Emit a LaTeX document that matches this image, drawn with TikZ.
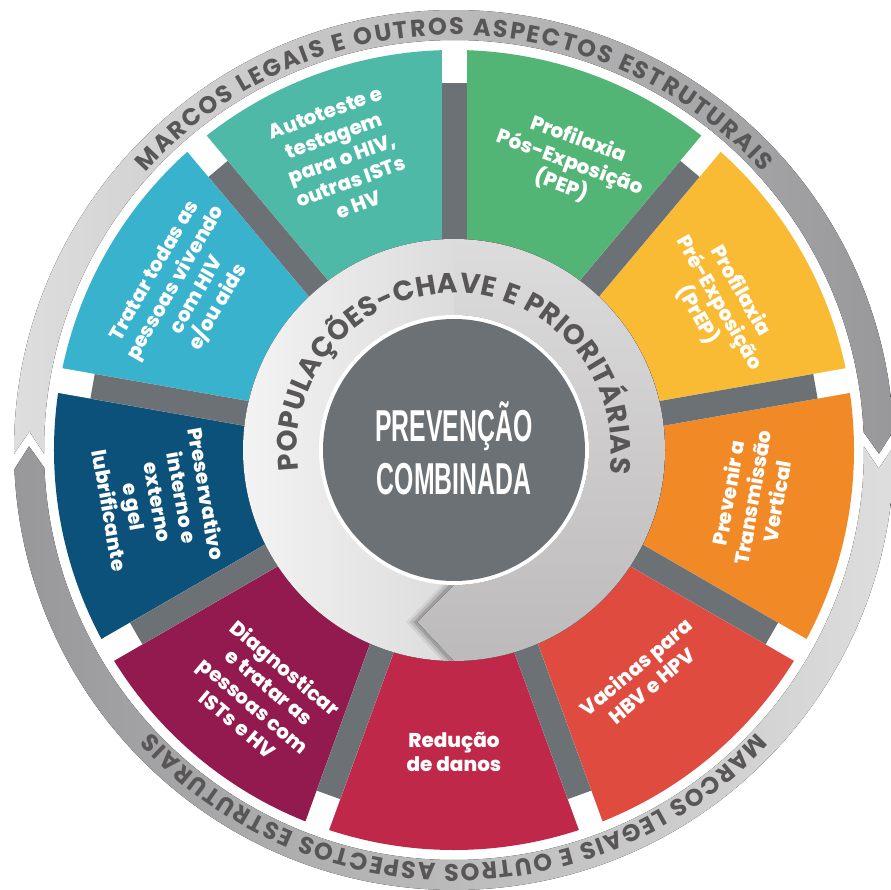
\documentclass[tikz,border=0pt]{standalone}
\usepackage{fontspec}
\setmainfont{Poppins}[BoldFont={Poppins ExtraBold}]
\newfontfamily\ringfont{Poppins}
\newfontfamily\hubfont{Liberation Sans}
\usepackage{xcolor}
\definecolor{segteal}{RGB}{79, 185, 168}
\definecolor{seggreen}{RGB}{82, 181, 118}
\definecolor{segyellow}{RGB}{250, 187, 52}
\definecolor{segorange}{RGB}{240, 137, 38}
\definecolor{segred}{RGB}{223, 76, 63}
\definecolor{segcrimson}{RGB}{192, 40, 74}
\definecolor{segpurple}{RGB}{146, 26, 79}
\definecolor{segnavy}{RGB}{12, 81, 122}
\definecolor{segblue}{RGB}{56, 178, 205}
\definecolor{hubgray}{RGB}{107, 113, 116}
\definecolor{ringtext}{RGB}{88, 86, 86}
\definecolor{ringlight}{RGB}{222, 222, 222}
\definecolor{ringdark}{RGB}{152, 152, 154}
\definecolor{innerlight}{RGB}{243, 243, 243}
\definecolor{innerdark}{RGB}{199, 197, 197}
\definecolor{bandlight}{RGB}{221, 220, 220}
\definecolor{banddark}{RGB}{188, 186, 186}
\usepackage{tikz}
\usetikzlibrary{
    decorations.text
}
\tikzstyle{seglabel} = [
    text=white,
    align=center,
    inner sep=0pt,
    font=\bfseries\fontsize{20}{24.5}\selectfont
]
\tikzstyle{hublabel} = [
    text=white,
    anchor=base,
    inner sep=0pt,
    xscale=0.555,
    font=\hubfont\bfseries\fontsize{44.7}{53}\selectfont
]
\tikzstyle{gapwhite} = [
    white,
    line width=25pt
]
\tikzstyle{gapbar} = [
    hubgray,
    line width=25pt
]
\tikzstyle{ringlabel} = [
    decorate,
    decoration={text along path, text align={fit to path}, text color=ringtext}
]
\tikzstyle{shadowline} = [
    black,
    line join=miter
]

\begin{document}
\begin{tikzpicture}
    \useasboundingbox (-454pt,-440pt) rectangle (436pt,450pt);

    % Outer Ring (two arrows)
    \fill[left color=ringlight, right color=ringdark] (180.5:440pt) arc[start angle=180.5, end angle=2.5, radius=440pt] -- (-0.5:425pt) -- (2.5:410pt) arc[start angle=2.5, end angle=180.5, radius=410pt] -- (177.5:425pt) -- cycle;
    \fill[left color=ringdark, right color=ringlight] (0.5:440pt) arc[start angle=0.5, end angle=-177.5, radius=440pt] -- (-180.5:425pt) -- (-177.5:410pt) arc[start angle=-177.5, end angle=0.5, radius=410pt] -- (-2.5:425pt) -- cycle;

    % Outer Ring Texts
    \path[ringlabel, decoration={text={|\ringfont\bfseries\fontsize{24}{24}\selectfont|MARCOS LEGAIS E OUTROS ASPECTOS ESTRUTURAIS}}] (138:415pt) arc[start angle=138, end angle=42, radius=415pt];
    \path[ringlabel, decoration={text={|\ringfont\bfseries\fontsize{24}{24}\selectfont|MARCOS LEGAIS E OUTROS ASPECTOS ESTRUTURAIS}}] (-43:414pt) arc[start angle=-43, end angle=-137, radius=414pt];

    % Segments
    \fill[seggreen] (0,0) -- (50:400pt) arc[start angle=50, end angle=90, radius=400pt] -- cycle;
    \fill[segyellow] (0,0) -- (10:400pt) arc[start angle=10, end angle=50, radius=400pt] -- cycle;
    \fill[segorange] (0,0) -- (-30:400pt) arc[start angle=-30, end angle=10, radius=400pt] -- cycle;
    \fill[segred] (0,0) -- (-70:400pt) arc[start angle=-70, end angle=-30, radius=400pt] -- cycle;
    \fill[segcrimson] (0,0) -- (-110:400pt) arc[start angle=-110, end angle=-70, radius=400pt] -- cycle;
    \fill[segpurple] (0,0) -- (-150:400pt) arc[start angle=-150, end angle=-110, radius=400pt] -- cycle;
    \fill[segnavy] (0,0) -- (170:400pt) arc[start angle=170, end angle=210, radius=400pt] -- cycle;
    \fill[segblue] (0,0) -- (130:400pt) arc[start angle=130, end angle=170, radius=400pt] -- cycle;
    \fill[segteal] (0,0) -- (90:400pt) arc[start angle=90, end angle=130, radius=400pt] -- cycle;

    % Gaps between segments
    \draw[gapwhite] (0,0) -- (90:404pt);
    \draw[gapwhite] (0,0) -- (50:404pt);
    \draw[gapwhite] (0,0) -- (10:404pt);
    \draw[gapwhite] (0,0) -- (-30:404pt);
    \draw[gapwhite] (0,0) -- (-70:404pt);
    \draw[gapwhite] (0,0) -- (-110:404pt);
    \draw[gapwhite] (0,0) -- (-150:404pt);
    \draw[gapwhite] (0,0) -- (170:404pt);
    \draw[gapwhite] (0,0) -- (130:404pt);
    \draw[gapbar] (0,0) -- (90:367pt);
    \draw[gapbar] (0,0) -- (50:367pt);
    \draw[gapbar] (0,0) -- (10:367pt);
    \draw[gapbar] (0,0) -- (-30:367pt);
    \draw[gapbar] (0,0) -- (-70:367pt);
    \draw[gapbar] (0,0) -- (-110:367pt);
    \draw[gapbar] (0,0) -- (-150:367pt);
    \draw[gapbar] (0,0) -- (170:367pt);
    \draw[gapbar] (0,0) -- (130:367pt);

    % Segment Labels
    \node[seglabel, rotate=20] (autoteste) at (111:312pt) {Autoteste e\\testagem\\para o HIV,\\outras ISTs\\e HV};
    \node[seglabel, rotate=-20] (pep) at (68:310pt) {Profilaxia\\Pós-Exposição\\(PEP)};
    \node[seglabel, rotate=-60] (prep) at (29:303pt) {Profilaxia\\Pré-Exposição\\(PrEP)};
    \node[seglabel, rotate=80] (vertical) at (-9:302pt) {Prevenir a\\Transmissão\\Vertical};
    \node[seglabel, rotate=40] (vacinas) at (-50:295pt) {Vacinas para\\HBV e HPV};
    \node[seglabel] (reducao) at (-90:302pt) {Redução\\de danos};
    \node[seglabel, rotate=-40] (diagnostico) at (-128:312pt) {Diagnosticar\\e tratar as\\pessoas com\\ISTs e HV};
    \node[seglabel, rotate=-80] (preservativo) at (-170:300pt) {Preservativo\\interno e\\externo\\e gel\\lubrificante};
    \node[seglabel, rotate=60] (tratar) at (149:312pt) {Tratar todas as\\pessoas vivendo\\com HIV\\e/ou aids};

    % Inner Ring
    \fill[left color=innerlight, right color=innerdark] (0,0) circle (211pt);
    \begin{scope}
        \clip (0,0) circle (211pt);
        \draw[shadowline, opacity=0.06, line width=12pt] ([xshift=-3pt]270:212pt) -- ([xshift=-3pt]258:176pt) -- ([xshift=-3pt]270:134pt);
        \draw[shadowline, opacity=0.10, line width=7pt] ([xshift=-3pt]270:212pt) -- ([xshift=-3pt]258:176pt) -- ([xshift=-3pt]270:134pt);
        \draw[shadowline, opacity=0.15, line width=3pt] ([xshift=-2pt]270:212pt) -- ([xshift=-2pt]258:176pt) -- ([xshift=-2pt]270:134pt);
    \end{scope}
    \fill[top color=bandlight, bottom color=banddark] (270:211pt) arc[start angle=-90, end angle=90, radius=211pt] -- (90:135pt) arc[start angle=90, end angle=-90, radius=135pt] -- (258:176pt) -- cycle;

    % Inner Ring Text
    \path[ringlabel, decoration={text={|\ringfont\bfseries\fontsize{28}{28}\selectfont|POPULAÇÕES-CHAVE E PRIORITÁRIAS}}] (187.5:157pt) arc[start angle=187.5, end angle=-8.5, radius=157pt];

    % Hub
    \fill[white] (0,0) circle (135pt);
    \fill[hubgray] (0,0) circle (131pt);
    \node[hublabel] (hubtop) at (0,8pt) {PREVENÇÃO};
    \node[hublabel] (hubbottom) at (0,-45pt) {COMBINADA};

\end{tikzpicture}
\end{document}
